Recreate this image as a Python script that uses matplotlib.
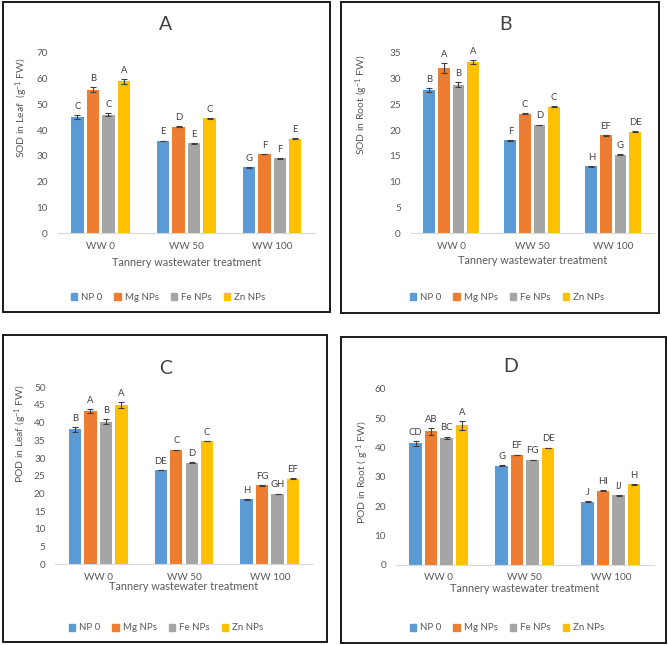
import numpy as np
import matplotlib
matplotlib.use('Agg')
import matplotlib.pyplot as plt
from matplotlib.patches import Patch, Rectangle

plt.rcParams['font.family'] = ['Lato', 'DejaVu Sans']
plt.rcParams['mathtext.fontset'] = 'custom'
plt.rcParams['mathtext.rm'] = 'Lato'
plt.rcParams['mathtext.it'] = 'Lato:italic'

W, H = 668, 645

treatments = ['WW 0', 'WW 50', 'WW 100']
series = ['NP 0', 'Mg NPs', 'Fe NPs', 'Zn NPs']
colors = ['#5B9BD5', '#ED7D31', '#A5A5A5', '#FFC000']

# ── values (rows = series, cols = treatment) ─────────────────────────────────
sod_leaf = [[45.0, 35.8, 25.6], [55.6, 41.3, 30.7], [46.0, 34.9, 29.0], [58.9, 44.6, 36.7]]
sod_leaf_err = [[0.8, 0.15, 0.15], [1.0, 0.15, 0.15], [0.7, 0.15, 0.15], [1.0, 0.15, 0.15]]
sod_leaf_lbl = [['C', 'E', 'G'], ['B', 'D', 'F'], ['C', 'E', 'F'], ['A', 'C', 'E']]

sod_root = [[27.7, 18.0, 13.0], [32.0, 23.2, 19.0], [28.8, 21.0, 15.2], [33.2, 24.5, 19.7]]
sod_root_err = [[0.4, 0.08, 0.08], [1.0, 0.08, 0.08], [0.5, 0.08, 0.08], [0.3, 0.08, 0.08]]
sod_root_lbl = [['B', 'F', 'H'], ['A', 'C', 'EF'], ['B', 'D', 'G'], ['A', 'C', 'DE']]

pod_leaf = [[38.1, 26.6, 18.4], [43.3, 32.3, 22.3], [40.3, 28.7, 19.9], [45.0, 34.8, 24.2]]
pod_leaf_err = [[0.6, 0.1, 0.1], [0.5, 0.1, 0.1], [0.8, 0.1, 0.1], [0.8, 0.1, 0.1]]
pod_leaf_lbl = [['B', 'DE', 'H'], ['A', 'C', 'FG'], ['B', 'D', 'GH'], ['A', 'C', 'EF']]

pod_root = [[41.5, 33.9, 21.5], [45.6, 37.5, 25.3], [43.4, 35.8, 23.8], [47.6, 39.9, 27.5]]
pod_root_err = [[0.8, 0.15, 0.15], [1.2, 0.15, 0.15], [0.4, 0.15, 0.15], [1.6, 0.15, 0.15]]
pod_root_lbl = [['CD', 'G', 'J'], ['AB', 'EF', 'HI'], ['BC', 'FG', 'IJ'], ['A', 'DE', 'H']]

fig = plt.figure(figsize=(W / 100, H / 100), dpi=100)


def fx(x):
    return x / W


def fy(y):
    return 1 - y / H


def panel(box, axbox, ymax, ystep, vals, errs, lbls, title, title_xy,
          ylabel, ylabel_xy, xlab_y, leg_xy):
    # panel frame
    x0, y0, x1, y1 = box
    fig.patches.append(Rectangle((fx(x0), fy(y1)), fx(x1 - x0), (y1 - y0) / H,
                                 transform=fig.transFigure, fill=False,
                                 ec='#1a1a1a', lw=1.4, zorder=0))
    ax0, ay0, ax1, ay1 = axbox
    ax = fig.add_axes([fx(ax0), fy(ay1), fx(ax1 - ax0), (ay1 - ay0) / H])
    x = np.arange(len(treatments))
    slot, bw = 0.18, 0.145
    for i, s in enumerate(series):
        xs = x + (i - 1.5) * slot
        ax.bar(xs, vals[i], bw, color=colors[i], label=s, zorder=2)
        ax.errorbar(xs, vals[i], yerr=errs[i], fmt='none', ecolor='#404040',
                    elinewidth=0.8, capsize=2.2, capthick=0.8, zorder=3)
        for xx, v, e, t in zip(xs, vals[i], errs[i], lbls[i]):
            ax.annotate(t, (xx, v + e), xytext=(0, 3), textcoords='offset points',
                        ha='center', va='bottom', fontsize=6.8, color='#404040')
    ax.set_xlim(-0.5, 2.5)
    ax.set_ylim(0, ymax)
    ax.set_yticks(np.arange(0, ymax + 0.01, ystep))
    ax.set_xticks(x)
    ax.set_xticklabels(treatments)
    ax.tick_params(length=0, labelsize=7.2, colors='#595959', pad=6)
    ax.tick_params(axis='y', pad=7)
    for sp in ('top', 'right', 'left'):
        ax.spines[sp].set_visible(False)
    ax.spines['bottom'].set_color('#D9D9D9')
    ax.spines['bottom'].set_linewidth(0.8)
    fig.text(fx(title_xy[0]), fy(title_xy[1]), title, ha='center', va='center',
             fontsize=14, color='#404040')
    fig.text(fx(ylabel_xy[0]), fy(ylabel_xy[1]), ylabel, rotation=90,
             ha='center', va='center', fontsize=7.5, color='#595959')
    fig.text(fx((ax0 + ax1) / 2), fy(xlab_y), 'Tannery wastewater treatment',
             ha='center', va='center', fontsize=7.8, color='#595959')
    handles = [Patch(color=c, label=s) for c, s in zip(colors, series)]
    leg = ax.legend(handles=handles, ncol=4, loc='center', frameon=False,
                    bbox_to_anchor=(fx(leg_xy[0]), fy(leg_xy[1])),
                    bbox_transform=fig.transFigure, fontsize=7,
                    handlelength=0.7, handleheight=0.7, handletextpad=0.4,
                    columnspacing=1.2)
    for t in leg.get_texts():
        t.set_color('#595959')
    return ax


panel((3, 2, 330, 312), (57.7, 52.7, 315, 233.3), 70, 10,
      sod_leaf, sod_leaf_err, sod_leaf_lbl, 'A', (166, 25),
      r'SOD in Leaf  (g$^{-1}$ FW)', (22, 108), 263, (168, 297))
panel((341, 2, 659, 313), (410.7, 52.7, 653.7, 233.3), 35, 5,
      sod_root, sod_root_err, sod_root_lbl, 'B', (505, 25),
      r'SOD in Root (g$^{-1}$ FW)', (362, 105), 260, (507, 297))
panel((3, 335, 327, 642), (55.3, 387.3, 312.7, 564.3), 50, 5,
      pod_leaf, pod_leaf_err, pod_leaf_lbl, 'C', (166, 368),
      r'POD in Leaf (g$^{-1}$ FW)', (21, 434), 587, (166, 628))
panel((341, 337, 666, 643), (395.8, 389, 653.8, 565), 60, 10,
      pod_root, pod_root_err, pod_root_lbl, 'D', (511, 367),
      r'POD in Root ( g$^{-1}$ FW)', (363, 472), 588, (507, 628))

fig.savefig('out.png', dpi=100)
